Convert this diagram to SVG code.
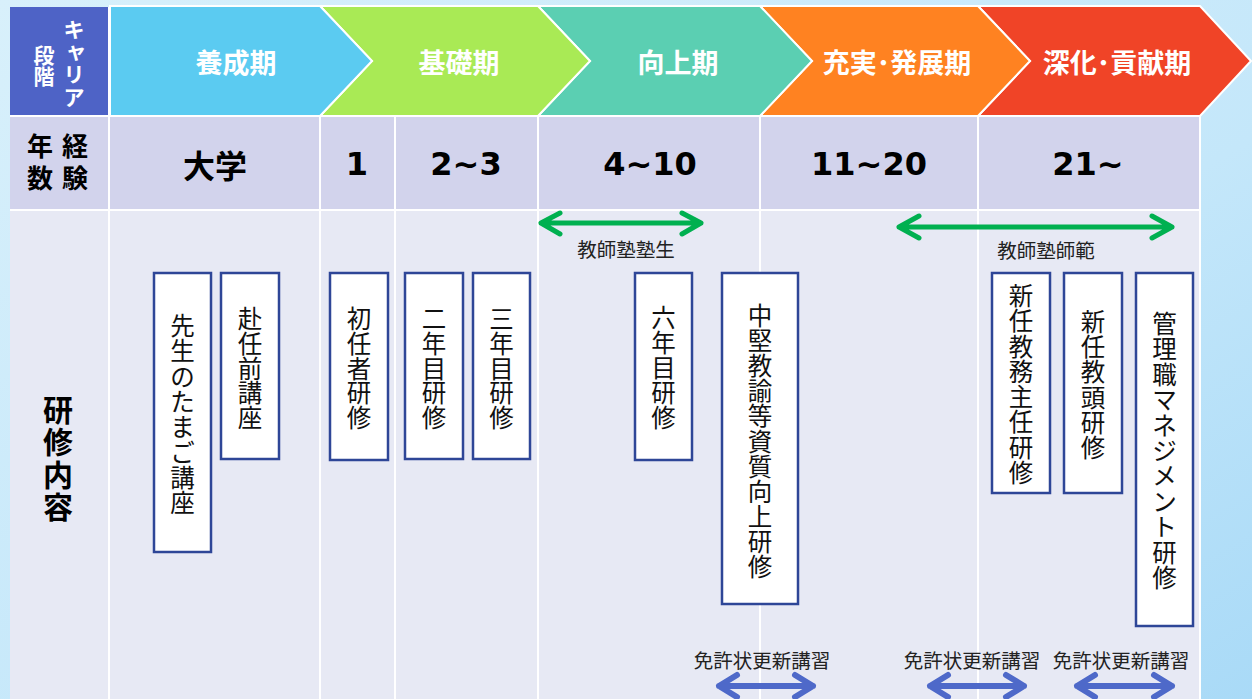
<svg xmlns="http://www.w3.org/2000/svg" width="1252" height="699" viewBox="0 0 1252 699">
<defs>
<linearGradient id="bg" x1="0" y1="0" x2="1" y2="1">
<stop offset="0" stop-color="#D8F0FB"/>
<stop offset="0.6" stop-color="#C4E7FA"/>
<stop offset="1" stop-color="#A9DAF7"/>
</linearGradient>
<style>
.chev{stroke:#FFFFFF;stroke-width:2;stroke-linejoin:miter}
.grid{stroke:#FFFFFF;stroke-width:2}
.hd{font-family:"Noto Sans CJK JP","Noto Sans",sans-serif;font-weight:bold;fill:#FFFFFF;font-size:27px;text-anchor:middle;dominant-baseline:central}
.yr{font-family:"DejaVu Sans","Noto Sans CJK JP",sans-serif;font-weight:bold;fill:#000000;font-size:32px;text-anchor:middle;dominant-baseline:central}
.vt{font-family:"Noto Sans CJK JP",sans-serif;text-anchor:middle;dominant-baseline:central;font-weight:bold}
.box rect{fill:#FFFFFF;stroke:#2E4697;stroke-width:2.5}
.box text{font-family:"Noto Sans CJK JP",sans-serif;text-anchor:middle;dominant-baseline:central;font-size:24.5px;fill:#111111}
.lbl{font-family:"Noto Sans CJK JP",sans-serif;font-size:19.5px;fill:#222222;text-anchor:middle;dominant-baseline:central}
.ga{stroke:#00B050;stroke-width:5;fill:none;stroke-linecap:round;stroke-linejoin:round}
.ba{stroke:#4E69C9;stroke-width:6;fill:none;stroke-linecap:round;stroke-linejoin:round}
</style>
</defs>
<rect x="0" y="0" width="1252" height="699" fill="url(#bg)"/>

<!-- table body -->
<g id="table">
<rect x="10" y="116" width="1190" height="95" fill="#D2D3EC"/>
<rect x="10" y="211" width="1190" height="488" fill="#E7E9F4"/>
<rect x="10" y="7" width="99" height="109" fill="#4E63C6"/>
<line class="grid" x1="10" y1="116" x2="1200" y2="116"/>
<line class="grid" x1="10" y1="210" x2="1200" y2="210"/>
<line class="grid" x1="109" y1="7" x2="109" y2="699"/>
<line class="grid" x1="320" y1="116" x2="320" y2="699"/>
<line class="grid" x1="395" y1="116" x2="395" y2="699"/>
<line class="grid" x1="538" y1="116" x2="538" y2="699"/>
<line class="grid" x1="760" y1="116" x2="760" y2="699"/>
<line class="grid" x1="978" y1="116" x2="978" y2="699"/>
<line class="grid" x1="1200" y1="116" x2="1200" y2="699"/>
</g>

<!-- chevrons -->
<g id="stage-5"><polygon class="chev" fill="#F04427" points="978,6 1200,6 1251,61 1200,116 978,116 1030,61"/><text class="hd" x="1117" y="61">深化･貢献期</text></g>
<g id="stage-4"><polygon class="chev" fill="#FF8221" points="760,6 978,6 1030,61 978,116 760,116 812,61"/><text class="hd" x="897" y="61">充実･発展期</text></g>
<g id="stage-3"><polygon class="chev" fill="#5BCFB2" points="538,6 760,6 812,61 760,116 538,116 590,61"/><text class="hd" x="678" y="61">向上期</text></g>
<g id="stage-2"><polygon class="chev" fill="#A9EA55" points="320,6 538,6 590,61 538,116 320,116 372,61"/><text class="hd" x="459" y="61">基礎期</text></g>
<g id="stage-1"><polygon class="chev" fill="#5BCBF1" points="110,6 320,6 372,61 320,116 110,116"/><text class="hd" x="236" y="61">養成期</text></g>

<!-- row headers -->
<g id="hdr-career">
<text class="vt" style="font-size:21px;fill:#FFFFFF"><tspan x="74" y="28">キ</tspan><tspan x="76" y="49">ャ</tspan><tspan x="74" y="73">リ</tspan><tspan x="74" y="96">ア</tspan></text>
<text class="vt" style="font-size:21px;fill:#FFFFFF"><tspan x="44" y="54">段</tspan><tspan x="44" y="75">階</tspan></text>
</g>
<g id="hdr-years">
<text class="vt" style="font-size:26px;fill:#000000"><tspan x="75" y="144">経</tspan><tspan x="75" y="176">験</tspan></text>
<text class="vt" style="font-size:26px;fill:#000000"><tspan x="40" y="144">年</tspan><tspan x="40" y="176">数</tspan></text>
</g>
<g id="hdr-content">
<text class="vt" style="font-size:30px;fill:#000000"><tspan x="58" y="408">研</tspan><tspan x="58" y="440">修</tspan><tspan x="58" y="473">内</tspan><tspan x="58" y="505">容</tspan></text>
</g>

<!-- years row -->
<g id="years">
<text class="yr" x="215" y="164" style="font-family:'Noto Sans CJK JP',sans-serif;font-size:32px">大学</text>
<text class="yr" x="357" y="164">1</text>
<text class="yr" x="466" y="164">2~3</text>
<text class="yr" x="650" y="164">4~10</text>
<text class="yr" x="869" y="164">11~20</text>
<text class="yr" x="1088" y="164">21~</text>
</g>

<!-- training boxes -->
<g id="n-tamago" class="box"><rect x="154" y="273" width="57" height="279"/><text><tspan x="182.5" y="324">先</tspan><tspan x="182.5" y="349">生</tspan><tspan x="182.5" y="375">の</tspan><tspan x="182.5" y="400">た</tspan><tspan x="182.5" y="425">ま</tspan><tspan x="182.5" y="451">ご</tspan><tspan x="182.5" y="476">講</tspan><tspan x="182.5" y="501">座</tspan></text></g>
<g id="n-funin" class="box"><rect x="221" y="273" width="58" height="186"/><text><tspan x="250" y="317">赴</tspan><tspan x="250" y="342">任</tspan><tspan x="250" y="366.5">前</tspan><tspan x="250" y="391">講</tspan><tspan x="250" y="416">座</tspan></text></g>
<g id="n-shonin" class="box"><rect x="330" y="273" width="58" height="187"/><text><tspan x="359" y="317">初</tspan><tspan x="359" y="342">任</tspan><tspan x="359" y="366.5">者</tspan><tspan x="359" y="391">研</tspan><tspan x="359" y="416">修</tspan></text></g>
<g id="n-2nen" class="box"><rect x="405" y="273" width="58" height="186"/><text><tspan x="434" y="317">二</tspan><tspan x="434" y="342">年</tspan><tspan x="434" y="366.5">目</tspan><tspan x="434" y="391">研</tspan><tspan x="434" y="416">修</tspan></text></g>
<g id="n-3nen" class="box"><rect x="473" y="273" width="57" height="186"/><text><tspan x="501.5" y="317">三</tspan><tspan x="501.5" y="342">年</tspan><tspan x="501.5" y="366.5">目</tspan><tspan x="501.5" y="391">研</tspan><tspan x="501.5" y="416">修</tspan></text></g>
<g id="n-6nen" class="box"><rect x="635" y="273" width="57" height="187"/><text><tspan x="663.5" y="316">六</tspan><tspan x="663.5" y="341">年</tspan><tspan x="663.5" y="366">目</tspan><tspan x="663.5" y="391">研</tspan><tspan x="663.5" y="416">修</tspan></text></g>
<g id="n-chuken" class="box"><rect x="722" y="273" width="76" height="331"/><text><tspan x="760" y="314">中</tspan><tspan x="760" y="339">堅</tspan><tspan x="760" y="364">教</tspan><tspan x="760" y="389">諭</tspan><tspan x="760" y="414">等</tspan><tspan x="760" y="440">資</tspan><tspan x="760" y="465">質</tspan><tspan x="760" y="490">向</tspan><tspan x="760" y="515">上</tspan><tspan x="760" y="540">研</tspan><tspan x="760" y="565">修</tspan></text></g>
<g id="n-kyomu" class="box"><rect x="992" y="273" width="58" height="220"/><text><tspan x="1021" y="294">新</tspan><tspan x="1021" y="319">任</tspan><tspan x="1021" y="345">教</tspan><tspan x="1021" y="370">務</tspan><tspan x="1021" y="395">主</tspan><tspan x="1021" y="420">任</tspan><tspan x="1021" y="446">研</tspan><tspan x="1021" y="471">修</tspan></text></g>
<g id="n-kyoto" class="box"><rect x="1064" y="273" width="58" height="220"/><text><tspan x="1093" y="320">新</tspan><tspan x="1093" y="345">任</tspan><tspan x="1093" y="370">教</tspan><tspan x="1093" y="396">頭</tspan><tspan x="1093" y="421">研</tspan><tspan x="1093" y="446">修</tspan></text></g>
<g id="n-kanri" class="box"><rect x="1136" y="273" width="57" height="353"/><text><tspan x="1164.5" y="322">管</tspan><tspan x="1164.5" y="347">理</tspan><tspan x="1164.5" y="373">職</tspan><tspan x="1164.5" y="398">マ</tspan><tspan x="1164.5" y="424">ネ</tspan><tspan x="1164.5" y="449">ジ</tspan><tspan x="1164.5" y="474">メ</tspan><tspan x="1164.5" y="500">ン</tspan><tspan x="1164.5" y="525">ト</tspan><tspan x="1164.5" y="551">研</tspan><tspan x="1164.5" y="576">修</tspan></text></g>

<!-- connectors -->
<g id="connectors">
<g id="c-jukusei">
<path class="ga" d="M541,223 H701 M560,213 L541,223 L560,234 M682,213 L701,223 L682,234"/>
</g>
<g id="c-shihan">
<path class="ga" d="M899,227 H1172 M919,216 L899,227 L919,238 M1152,216 L1172,227 L1152,238"/>
</g>
<g id="c-menkyo1"><path class="ba" d="M719,686 H813 M737,675 L719,686 L737,697 M795,675 L813,686 L795,697"/></g>
<g id="c-menkyo2"><path class="ba" d="M930,686 H1024 M948,675 L930,686 L948,697 M1006,675 L1024,686 L1006,697"/></g>
<g id="c-menkyo3"><path class="ba" d="M1077,686 H1172 M1095,675 L1077,686 L1095,697 M1154,675 L1172,686 L1154,697"/></g>
</g>

<!-- labels -->
<g id="labels">
<text class="lbl" x="626" y="248">教師塾塾生</text>
<text class="lbl" x="1046" y="249">教師塾師範</text>
<text class="lbl" x="762" y="659">免許状更新講習</text>
<text class="lbl" x="972" y="659">免許状更新講習</text>
<text class="lbl" x="1121" y="659">免許状更新講習</text>
</g>
</svg>
